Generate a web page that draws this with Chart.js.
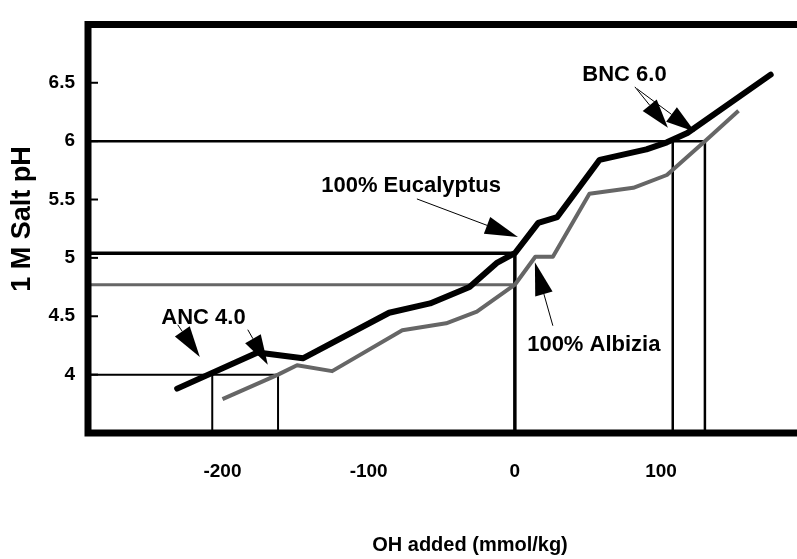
<!DOCTYPE html>
<html>
<head>
<meta charset="utf-8">
<script src="https://cdn.jsdelivr.net/npm/chart.js@4.4.1/dist/chart.umd.min.js"></script>
<style>
    html, body { margin: 0; padding: 0; background: #fff; }
    #wrap { width: 797px; height: 559px; }
</style>
</head>
<body>
<div id="wrap"><canvas id="chart" width="797" height="559"></canvas></div>
<script>
// Salt pH titration curves

// 100% Eucalyptus (thick black curve)
const eucalyptusX = [-231, -176, -145, -86, -58, -31, -12, 0, 16, 29, 58, 90, 104, 118, 175];
const eucalyptusPH = [3.88, 4.19, 4.14, 4.53, 4.61, 4.75, 4.96, 5.04, 5.30, 5.35, 5.84, 5.93, 5.99, 6.07, 6.57];

// 100% Albizia (grey curve)
const albiziaX = [-200, -162, -149, -125, -77, -47, -26, 0, 14, 26, 51, 81, 104, 130, 153];
const albiziaPH = [3.79, 4.0, 4.08, 4.03, 4.38, 4.44, 4.54, 4.77, 5.01, 5.01, 5.55, 5.60, 5.71, 6.0, 6.26];

// ANC / BNC read-offs
const ancPH = 4.0;
const bncPH = 6.0;
const ancEucalyptus = -207;
const ancAlbizia = -162;
const bncEucalyptus = 108;
const bncAlbizia = 130;
const zeroEucalyptusPH = 5.04;
const zeroAlbiziaPH = 4.77;

// Axes
const xTicks = [-200, -100, 0, 100];
const yTicks = [4, 4.5, 5, 5.5, 6, 6.5];
const xMin = -292, xMax = 193;
const yMin = 3.5, yMax = 7.0;

// Callout labels and arrows (data coordinates)
const notes = [
    { text: 'BNC 6.0', x: 75, y: 6.515 },
    { text: '100% Eucalyptus', x: -71, y: 5.563 },
    { text: '100% Albizia', x: 54, y: 4.20 },
    { text: 'ANC 4.0', x: -213, y: 4.435 }
];
const arrows = [
    { from: [-67, 5.505], to: [2.1, 5.179], len: 33, half: 9 },
    { from: [26, 4.419], to: [13.7, 4.962], len: 33, half: 9 },
    { from: [82.1, 6.465], to: [104.7, 6.114], len: 29, half: 9 },
    { from: [83.5, 6.449], to: [123.1, 6.081], len: 29, half: 9 },
    { from: [-230.6, 4.427], to: [-215.5, 4.151], len: 31, half: 9 },
    { from: [-182.7, 4.385], to: [-169, 4.084], len: 30, half: 9 }
];

const toPoints = (xs, ys) => xs.map((x, i) => ({ x: x, y: ys[i] }));

function refLine(points, width, color) {
    return {
        data: points,
        borderColor: color || '#000',
        borderWidth: width,
        pointRadius: 0,
        tension: 0,
        fill: false,
        order: 2
    };
}

const datasets = [
    {
        label: '100% Eucalyptus',
        data: toPoints(eucalyptusX, eucalyptusPH),
        borderColor: '#000',
        borderWidth: 6,
        borderCapStyle: 'round',
        borderJoinStyle: 'round',
        pointRadius: 0,
        tension: 0,
        order: 0
    },
    {
        label: '100% Albizia',
        data: toPoints(albiziaX, albiziaPH),
        borderColor: '#666',
        borderWidth: 4,
        borderJoinStyle: 'round',
        pointRadius: 0,
        tension: 0,
        order: 1
    },
    refLine([{ x: xMin, y: bncPH }, { x: bncAlbizia, y: bncPH }, { x: bncAlbizia, y: yMin }], 2.5),
    refLine([{ x: bncEucalyptus, y: bncPH }, { x: bncEucalyptus, y: yMin }], 2.5),
    refLine([{ x: xMin, y: zeroEucalyptusPH }, { x: 0, y: zeroEucalyptusPH }, { x: 0, y: yMin }], 3.5),
    refLine([{ x: xMin, y: zeroAlbiziaPH }, { x: 0, y: zeroAlbiziaPH }], 3, '#666'),
    refLine([{ x: xMin, y: ancPH }, { x: ancAlbizia, y: ancPH }, { x: ancAlbizia, y: yMin }], 2),
    refLine([{ x: ancEucalyptus, y: ancPH }, { x: ancEucalyptus, y: yMin }], 2)
];

const labelFont = 'bold 22px "Liberation Sans", Arial, Helvetica, sans-serif';

// Frame, inner ticks, callouts and axis titles
const decorPlugin = {
    id: 'decor',
    afterDraw(chart) {
        const ctx = chart.ctx;
        const area = chart.chartArea;
        const xs = chart.scales.x;
        const ys = chart.scales.y;
        ctx.save();

        // inward y ticks
        ctx.strokeStyle = '#000';
        ctx.lineWidth = 2;
        yTicks.forEach(v => {
            const py = ys.getPixelForValue(v);
            ctx.beginPath();
            ctx.moveTo(area.left, py);
            ctx.lineTo(area.left + 10, py);
            ctx.stroke();
        });

        // frame (top, left, bottom)
        ctx.lineWidth = 7;
        ctx.lineCap = 'square';
        ctx.beginPath();
        ctx.moveTo(chart.width, area.top);
        ctx.lineTo(area.left, area.top);
        ctx.lineTo(area.left, area.bottom);
        ctx.lineTo(chart.width, area.bottom);
        ctx.stroke();

        // arrows
        ctx.fillStyle = '#000';
        ctx.lineCap = 'butt';
        arrows.forEach(a => {
            const x0 = xs.getPixelForValue(a.from[0]);
            const y0 = ys.getPixelForValue(a.from[1]);
            const x1 = xs.getPixelForValue(a.to[0]);
            const y1 = ys.getPixelForValue(a.to[1]);
            const ang = Math.atan2(y1 - y0, x1 - x0);
            const bx = x1 - a.len * Math.cos(ang);
            const by = y1 - a.len * Math.sin(ang);
            ctx.lineWidth = 1;
            ctx.beginPath();
            ctx.moveTo(x0, y0);
            ctx.lineTo(bx, by);
            ctx.stroke();
            ctx.beginPath();
            ctx.moveTo(x1, y1);
            ctx.lineTo(bx + a.half * Math.sin(ang), by - a.half * Math.cos(ang));
            ctx.lineTo(bx - a.half * Math.sin(ang), by + a.half * Math.cos(ang));
            ctx.closePath();
            ctx.fill();
        });

        // callout labels
        ctx.font = labelFont;
        ctx.textAlign = 'center';
        ctx.textBaseline = 'alphabetic';
        notes.forEach(n => {
            ctx.fillText(n.text, xs.getPixelForValue(n.x), ys.getPixelForValue(n.y));
        });

        // axis titles
        ctx.textBaseline = 'middle';
        ctx.font = 'bold 20px "Liberation Sans", Arial, Helvetica, sans-serif';
        ctx.fillText('OH added (mmol/kg)', 470, 545);
        ctx.translate(23, 219);
        ctx.rotate(-Math.PI / 2);
        ctx.font = 'bold 27px "Liberation Sans", Arial, Helvetica, sans-serif';
        ctx.fillText('1 M Salt pH', 0, 0);

        ctx.restore();
    }
};

const tickFont = { family: '"Liberation Sans", Arial, Helvetica, sans-serif', size: 19, weight: 'bold' };

new Chart(document.getElementById('chart').getContext('2d'), {
    type: 'line',
    data: { datasets: datasets },
    options: {
        responsive: false,
        animation: false,
        events: [],
        layout: { padding: { top: 14, right: 0, bottom: 0, left: 0 } },
        plugins: {
            legend: { display: false },
            tooltip: { enabled: false }
        },
        scales: {
            x: {
                type: 'linear',
                min: xMin,
                max: xMax,
                grid: { display: false, drawTicks: false },
                border: { display: false },
                afterBuildTicks: scale => { scale.ticks = xTicks.map(v => ({ value: v })); },
                afterFit: scale => { scale.height = 126; },
                ticks: {
                    color: '#000',
                    font: tickFont,
                    padding: 27,
                    maxRotation: 0,
                    callback: value => String(value)
                }
            },
            y: {
                type: 'linear',
                min: yMin,
                max: yMax,
                grid: { display: false, drawTicks: false },
                border: { display: false },
                afterBuildTicks: scale => { scale.ticks = yTicks.map(v => ({ value: v })); },
                afterFit: scale => { scale.width = 88; },
                ticks: {
                    color: '#000',
                    font: tickFont,
                    padding: 13,
                    labelOffset: 0,
                    callback: value => String(value)
                }
            }
        }
    },
    plugins: [decorPlugin]
});
</script>
</body>
</html>
